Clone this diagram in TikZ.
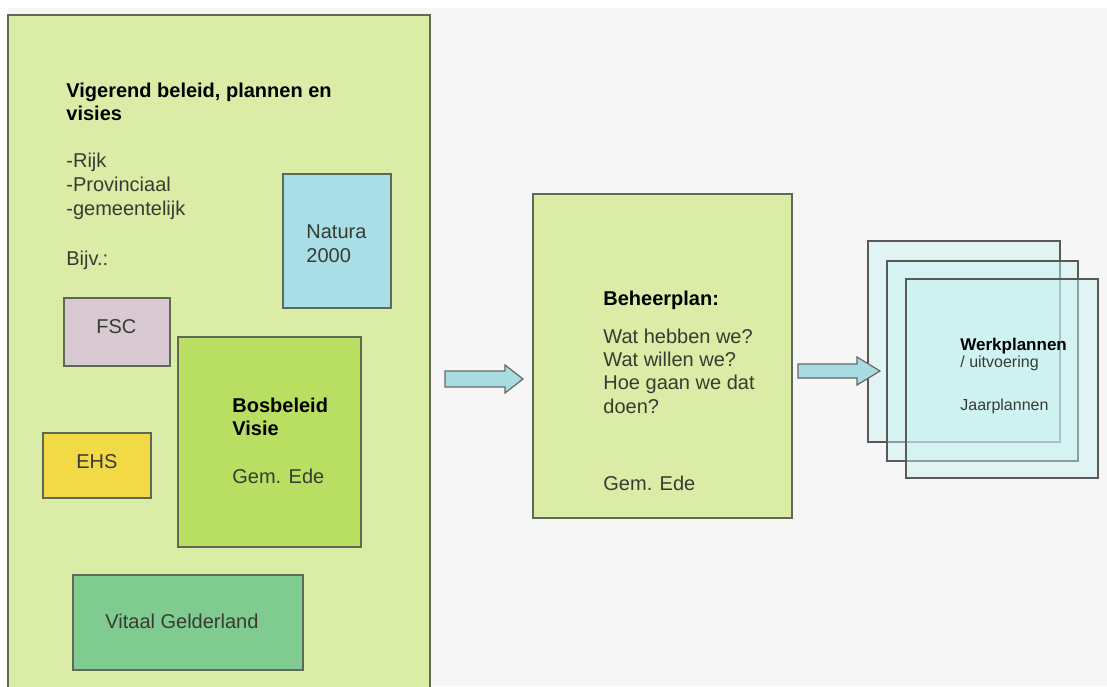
\documentclass[tikz,border=0pt]{standalone}
\usepackage{fontspec}
\setmainfont{Liberation Sans}
\usetikzlibrary{positioning, fit, calc}

\definecolor{bggrey}{RGB}{246,246,246}
\definecolor{panelgreen}{RGB}{218,236,166}
\definecolor{framegrey}{RGB}{95,105,85}
\definecolor{naturablue}{RGB}{170,222,230}
\definecolor{fscpink}{RGB}{216,201,210}
\definecolor{bosgreen}{RGB}{184,222,98}
\definecolor{ehsyellow}{RGB}{242,217,70}
\definecolor{vitaalgreen}{RGB}{128,203,143}
\definecolor{arrowcyan}{RGB}{168,220,224}
\definecolor{sheetcyan}{RGB}{200,242,242}
\definecolor{textgrey}{RGB}{55,60,50}

\begin{document}
\begin{tikzpicture}[
    x=0.5pt, y=-0.5pt,
    box/.style={draw=framegrey, line width=1pt, inner sep=0pt},
    sheet/.style={draw=black!65, line width=0.8pt, fill=sheetcyan, fill opacity=0.45, inner sep=0pt},
    flowarrow/.style={draw=black!60, line width=0.6pt, fill=arrowcyan},
    txt/.style={anchor=base west, inner sep=0pt, text=textgrey, font=\fontsize{10}{12}\selectfont},
    head/.style={txt, text=black, font=\fontsize{10}{12}\selectfont\bfseries},
    small/.style={txt, font=\fontsize{8}{10}\selectfont}
]
    % page and background
    \fill[white] (0,0) rectangle (1107,686);
    \fill[bggrey] (8,8) rectangle (1107,686);
    \useasboundingbox (0,0) rectangle (1107,686);
    \clip (0,0) rectangle (1107,686);

    % Left panel: policy
    \node[box, fill=panelgreen, fit={(8,15) (430,700)}] (beleid) {};
    \node[head] (titel1) at (66,97) {Vigerend beleid, plannen en};
    \node[head] (titel2) at (66,120) {visies};
    \node[txt] (rijk) at (66,167) {-Rijk};
    \node[txt] (prov) at (66,191) {-Provinciaal};
    \node[txt] (gem) at (66,215) {-gemeentelijk};
    \node[txt] (bijv) at (66,265) {Bijv.:};

    % Example boxes
    \node[box, fill=naturablue, fit={(283,174) (391,308)}] (natura) {};
    \node[txt] at (306,238) {Natura};
    \node[txt] at (306,262) {2000};

    \node[box, fill=fscpink, fit={(64,298) (170,366)}] (fsc) {};
    \node[txt] at (96,333) {FSC};

    \node[box, fill=bosgreen, fit={(178,337) (361,547)}] (bos) {};
    \node[head] at (232,412) {Bosbeleid};
    \node[head] at (232,435) {Visie};
    \node[txt] at (232,483) {Gem. Ede};

    \node[box, fill=ehsyellow, fit={(43,433) (151,498)}] (ehs) {};
    \node[txt] at (76,468) {EHS};

    \node[box, fill=vitaalgreen, fit={(73,575) (303,670)}] (vitaal) {};
    \node[txt] at (105,628) {Vitaal Gelderland};

    % Middle: management plan
    \node[box, fill=panelgreen, fit={(533,194) (792,518)}] (plan) {};
    \node[head] at (603,305) {Beheerplan:};
    \node[txt] at (603,343) {Wat hebben we?};
    \node[txt] at (603,366) {Wat willen we?};
    \node[txt] at (603,389) {Hoe gaan we dat};
    \node[txt] at (603,413) {doen?};
    \node[txt] at (603,490) {Gem. Ede};

    % Right: stacked work plans
    \node[sheet, fit={(868,241) (1060,442)}] (werk1) {};
    \node[sheet, fit={(887,261) (1078,461)}] (werk2) {};
    \node[sheet, fit={(906,279) (1098,478)}] (werk3) {};
    \node[small, font=\fontsize{8.5}{10}\selectfont\bfseries, text=black] at (960,350) {Werkplannen};
    \node[small] at (960,367) {/ uitvoering};
    \node[small] at (960,410) {Jaarplannen};

    % Block arrows between the stages
    \coordinate (a1s) at (445,379);
    \coordinate (a1e) at (523,379);
    \draw[flowarrow] ($(a1s)+(0,-8)$) -- ($(a1e)+(-18,-8)$) -- ($(a1e)+(-18,-14)$) -- (a1e)
        -- ($(a1e)+(-18,14)$) -- ($(a1e)+(-18,8)$) -- ($(a1s)+(0,8)$) -- cycle;
    \coordinate (a2s) at (798,371);
    \coordinate (a2e) at (880,371);
    \draw[flowarrow] ($(a2s)+(0,-7)$) -- ($(a2e)+(-23,-7)$) -- ($(a2e)+(-23,-14)$) -- (a2e)
        -- ($(a2e)+(-23,14)$) -- ($(a2e)+(-23,7)$) -- ($(a2s)+(0,7)$) -- cycle;
\end{tikzpicture}
\end{document}
